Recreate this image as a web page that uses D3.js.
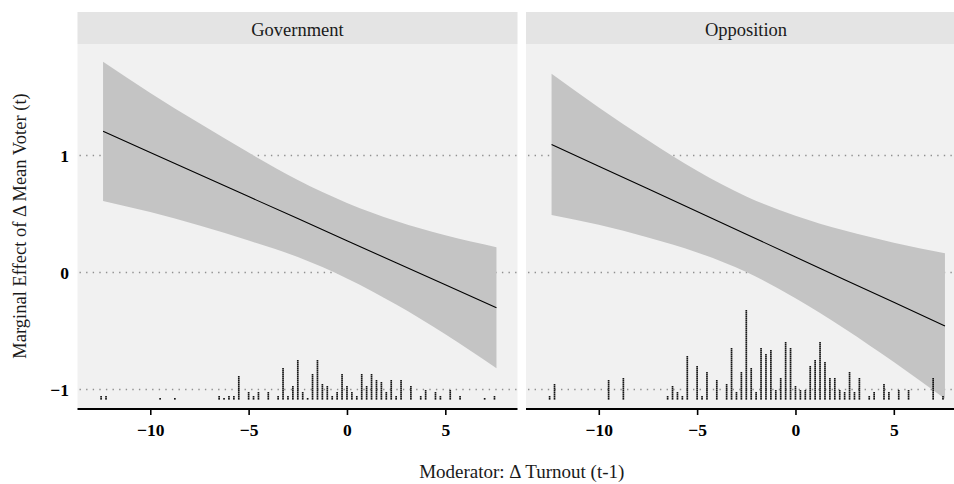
<!DOCTYPE html>
<html>
<head>
<meta charset="utf-8">
<script src="https://cdn.jsdelivr.net/npm/d3@7"></script>
<style>
  html, body { margin: 0; padding: 0; background: #ffffff; }
  svg { display: block; }
</style>
</head>
<body>
<svg id="chart" width="954" height="484"></svg>
<script>
// ---- data ----------------------------------------------------------------
const panels = ["Government", "Opposition"];
const xTicks = [-10, -5, 0, 5];
const yTicks = [1, 0, -1];

// moderator values at which the marginal effect and its interval are given
const moderatorGrid = [-12.4, -10, -7.5, -5, -2.5, 0, 2.5, 5, 7.6];

const govEffect = [1.207, 1.026, 0.838, 0.649, 0.461, 0.272, 0.083, -0.105, -0.301];
const govUpper  = [1.802, 1.535, 1.275, 1.025, 0.790, 0.595, 0.440, 0.318, 0.216];
const govLower  = [0.612, 0.517, 0.401, 0.273, 0.132, -0.051, -0.274, -0.528, -0.818];

const oppEffect = [1.095, 0.909, 0.715, 0.521, 0.327, 0.133, -0.061, -0.255, -0.457];
const oppUpper  = [1.698, 1.410, 1.130, 0.870, 0.650, 0.485, 0.358, 0.255, 0.164];
const oppLower  = [0.492, 0.408, 0.300, 0.172, 0.004, -0.219, -0.480, -0.765, -1.078];

// distribution of the moderator (bin centre, number of observations)
const govBins   = [-12.5, -12.25, -9.5, -8.75, -6.5, -6.25, -6, -5.75, -5.5, -5, -4.75, -4.5, -4, -3.5, -3.25, -3, -2.75, -2.5, -2.25, -2, -1.75, -1.5, -1.25, -1, -0.75, -0.5, -0.25, 0, 0.25, 0.5, 0.75, 1, 1.25, 1.5, 1.75, 2, 2.25, 2.5, 2.75, 3.25, 3.75, 4, 4.5, 4.75, 5.25, 5.75, 7, 7.5];
const govCounts = [2, 2, 1, 1, 2, 1, 2, 2, 12, 4, 2, 4, 4, 2, 16, 2, 7, 20, 4, 1, 13, 20, 8, 7, 2, 4, 13, 7, 4, 2, 13, 7, 13, 10, 9, 4, 10, 2, 10, 7, 2, 5, 4, 2, 5, 2, 1, 2];

const oppBins   = [-12.5, -12.25, -9.5, -8.75, -6.5, -6.25, -6, -5.75, -5.5, -5, -4.75, -4.5, -4, -3.5, -3.25, -3, -2.75, -2.5, -2.25, -2, -1.75, -1.5, -1.25, -1, -0.75, -0.5, -0.25, 0, 0.25, 0.5, 0.75, 1, 1.25, 1.5, 1.75, 2, 2.25, 2.5, 2.75, 3, 3.25, 3.75, 4, 4.5, 4.75, 5.25, 5.75, 7, 7.5];
const oppCounts = [2, 8, 10, 11, 2, 7, 4, 2, 22, 17, 2, 14, 10, 8, 26, 4, 14, 45, 16, 4, 26, 23, 25, 5, 11, 29, 26, 7, 5, 5, 17, 20, 29, 19, 11, 11, 5, 4, 14, 4, 11, 2, 4, 8, 4, 5, 5, 11, 2];

// ---- layout --------------------------------------------------------------
const svg = d3.select("#chart");
const panelTop = 44, panelBottom = 408, stripTop = 12;
const panelW = 440;
const panelLeft = [77.5, 526];
const rugBase = -1.08;     // y value of the lowest dot in each stack
const dotStep = 2.0;       // vertical spacing between stacked dots (px)
const serif = "'Liberation Serif', 'Times New Roman', serif";

const y = d3.scaleLinear().domain([-1.158, 1.953]).range([panelBottom, panelTop]);

const series = [
  { effect: govEffect, upper: govUpper, lower: govLower, bins: govBins, counts: govCounts },
  { effect: oppEffect, upper: oppUpper, lower: oppLower, bins: oppBins, counts: oppCounts }
];

const defs = svg.append("defs");

panels.forEach((name, i) => {
  const x0 = panelLeft[i];
  const x = d3.scaleLinear().domain([-13.7, 8.67]).range([x0, x0 + panelW]);
  const s = series[i];

  defs.append("clipPath").attr("id", "clip" + i)
    .append("rect").attr("x", x0).attr("y", panelTop).attr("width", panelW).attr("height", panelBottom - panelTop);

  const g = svg.append("g");

  // strip
  g.append("rect")
    .attr("x", x0).attr("y", stripTop).attr("width", panelW).attr("height", panelTop - stripTop)
    .attr("fill", "#e4e4e4");
  g.append("text")
    .attr("x", x0 + panelW / 2).attr("y", 35.5)
    .attr("text-anchor", "middle")
    .attr("font-family", serif).attr("font-size", 18.5).attr("fill", "#1a1a1a")
    .text(name);

  // panel background
  g.append("rect")
    .attr("x", x0).attr("y", panelTop).attr("width", panelW).attr("height", panelBottom - panelTop)
    .attr("fill", "#f1f1f1");

  const inner = g.append("g").attr("clip-path", `url(#clip${i})`);

  // horizontal dotted reference lines
  inner.selectAll("line.grid").data(yTicks).join("line")
    .attr("class", "grid")
    .attr("x1", x0 + 2).attr("x2", x0 + panelW)
    .attr("y1", d => y(d)).attr("y2", d => y(d))
    .attr("stroke", "#909090").attr("stroke-width", 1.4)
    .attr("stroke-dasharray", "1.4,5.2");

  // confidence band
  const pts = moderatorGrid.map((m, k) => ({ m, e: s.effect[k], lo: s.lower[k], hi: s.upper[k] }));
  inner.append("path")
    .datum(pts)
    .attr("fill", "#c4c4c4")
    .attr("d", d3.area().x(d => x(d.m)).y0(d => y(d.lo)).y1(d => y(d.hi)).curve(d3.curveMonotoneX));

  // marginal effect line
  inner.append("path")
    .datum(pts)
    .attr("fill", "none").attr("stroke", "#000").attr("stroke-width", 1.1)
    .attr("d", d3.line().x(d => x(d.m)).y(d => y(d.e)));

  // stacked dots showing the distribution of the moderator
  const dots = [];
  s.bins.forEach((b, k) => {
    for (let j = 0; j < s.counts[k]; j++) dots.push({ b, j });
  });
  inner.selectAll("rect.dot").data(dots).join("rect")
    .attr("class", "dot")
    .attr("x", d => x(d.b) - 0.85)
    .attr("y", d => y(rugBase) - d.j * dotStep - 0.85)
    .attr("width", 1.7).attr("height", 1.6)
    .attr("fill", "#111");

  // x axis
  const ax = g.append("g").attr("transform", `translate(0,${panelBottom + 1})`)
    .call(d3.axisBottom(x).tickValues(xTicks).tickSize(6).tickSizeOuter(0).tickFormat(d3.format("d")));
  ax.select(".domain").attr("stroke", "#000").attr("stroke-width", 2)
    .attr("d", `M${x0},0H${x0 + panelW}`);
  ax.selectAll(".tick line").attr("stroke", "#000").attr("stroke-width", 1.6);
  ax.selectAll(".tick text")
    .attr("font-family", serif).attr("font-size", 17.5).attr("font-weight", "bold")
    .attr("fill", "#000").attr("dy", "1.0em");

  // y tick labels on the first panel only
  if (i === 0) {
    g.selectAll("text.ytick").data(yTicks).join("text")
      .attr("class", "ytick")
      .attr("x", 69).attr("y", d => y(d))
      .attr("dy", "0.35em")
      .attr("text-anchor", "end")
      .attr("font-family", serif).attr("font-size", 17.5).attr("font-weight", "bold")
      .attr("fill", "#000")
      .text(d => d3.format("d")(d));
  }
});

// axis titles
svg.append("text")
  .attr("transform", `translate(26,${(panelTop + panelBottom) / 2}) rotate(-90)`)
  .attr("text-anchor", "middle")
  .attr("font-family", serif).attr("font-size", 18.5).attr("fill", "#1a1a1a")
  .text("Marginal Effect of Δ Mean Voter (t)");

svg.append("text")
  .attr("x", (panelLeft[0] + panelLeft[1] + panelW) / 2).attr("y", 478)
  .attr("text-anchor", "middle")
  .attr("font-family", serif).attr("font-size", 19).attr("fill", "#1a1a1a")
  .text("Moderator: Δ Turnout (t-1)");
</script>
</body>
</html>
